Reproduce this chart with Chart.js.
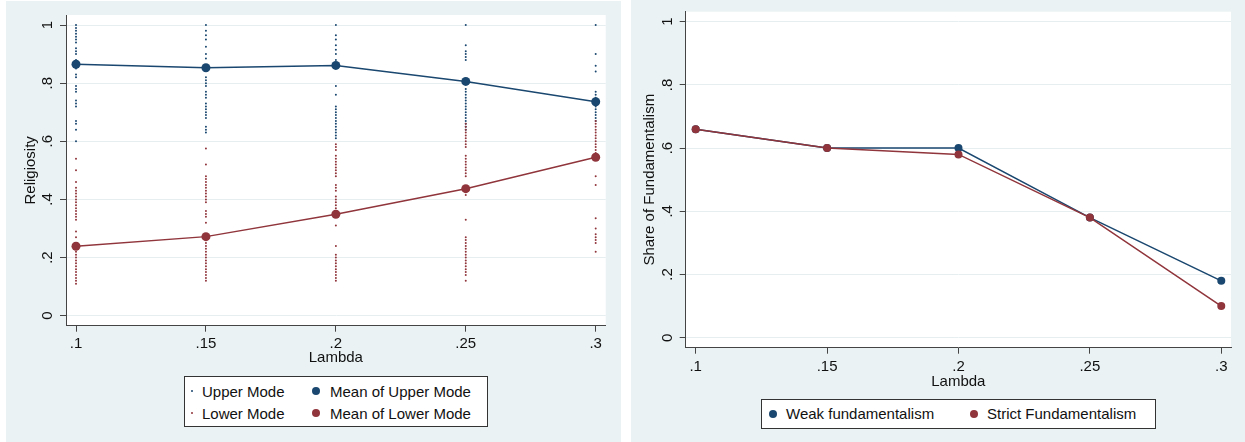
<!DOCTYPE html>
<html>
<head>
<meta charset="utf-8">
<script src="https://cdn.jsdelivr.net/npm/chart.js@4"></script>
<style>
    body { margin: 0; background: #fff; width: 1245px; height: 442px; position: relative; overflow: hidden;
           font-family: "Liberation Sans", Arial, sans-serif; }
    canvas { position: absolute; }
    .legend { position: absolute; background: #fff; border: 1px solid #333; box-sizing: border-box; }
    .item { position: absolute; font-size: 15px; color: #111; line-height: 18px; white-space: nowrap; }
    .dot { position: absolute; border-radius: 50%; }
</style>
</head>
<body>
<canvas id="left" width="615" height="441" style="left:6px; top:1px;"></canvas>
<canvas id="right" width="614" height="442" style="left:631px; top:0px;"></canvas>

<div class="legend" style="left:184px; top:376px; width:304px; height:51px;">
    <div class="dot" style="left:6px; top:13px; width:2px; height:2px; background:#1a476f;"></div>
    <div class="item" style="left:17px; top:6px;">Upper Mode</div>
    <div class="dot" style="left:6px; top:35px; width:2px; height:2px; background:#90353b;"></div>
    <div class="item" style="left:17px; top:28px;">Lower Mode</div>
    <div class="dot" style="left:127px; top:10px; width:8px; height:8px; background:#1a476f;"></div>
    <div class="item" style="left:145px; top:6px;">Mean of Upper Mode</div>
    <div class="dot" style="left:127px; top:32px; width:8px; height:8px; background:#90353b;"></div>
    <div class="item" style="left:145px; top:28px;">Mean of Lower Mode</div>
</div>

<div class="legend" style="left:761px; top:399px; width:395px; height:30px;">
    <div class="dot" style="left:7px; top:10px; width:8px; height:8px; background:#1a476f;"></div>
    <div class="item" style="left:24px; top:5px;">Weak fundamentalism</div>
    <div class="dot" style="left:208px; top:10px; width:8px; height:8px; background:#90353b;"></div>
    <div class="item" style="left:225px; top:5px;">Strict Fundamentalism</div>
</div>

<script>
// lambda values (x axis of both panels)
var lambdas = [0.1, 0.15, 0.2, 0.25, 0.3];
var yTicks = [0, 0.2, 0.4, 0.6, 0.8, 1];

// left panel: individual religiosity of runs, one list per lambda
var upperMode = [
    [1.0, 0.99, 0.98, 0.97, 0.96, 0.95, 0.94, 0.92, 0.91, 0.90, 0.88, 0.87, 0.85, 0.83, 0.82, 0.79, 0.78, 0.77, 0.74, 0.73, 0.72, 0.67, 0.66, 0.64, 0.60],
    [1.0, 0.98, 0.965, 0.95, 0.925, 0.90, 0.885, 0.86, 0.82, 0.81, 0.80, 0.79, 0.77, 0.76, 0.75, 0.73, 0.72, 0.71, 0.70, 0.69, 0.68, 0.65, 0.64, 0.63],
    [1.0, 0.965, 0.95, 0.93, 0.915, 0.90, 0.88, 0.86, 0.79, 0.76, 0.72, 0.71, 0.70, 0.69, 0.68, 0.67, 0.66, 0.65, 0.64, 0.63, 0.62, 0.61],
    [1.0, 0.93, 0.91, 0.90, 0.89, 0.88, 0.78, 0.77, 0.76, 0.75, 0.74, 0.73, 0.72, 0.71, 0.70, 0.69, 0.68, 0.67, 0.66, 0.65, 0.64],
    [1.0, 0.90, 0.86, 0.84, 0.77, 0.76, 0.75, 0.72, 0.71, 0.70, 0.69, 0.68, 0.67]
];
var lowerMode = [
    [0.54, 0.50, 0.46, 0.44, 0.43, 0.42, 0.41, 0.40, 0.39, 0.38, 0.37, 0.36, 0.35, 0.34, 0.33, 0.29, 0.27, 0.24, 0.23, 0.22, 0.21, 0.20, 0.19, 0.18, 0.17, 0.16, 0.15, 0.14, 0.13, 0.12, 0.11],
    [0.575, 0.52, 0.48, 0.47, 0.46, 0.45, 0.44, 0.43, 0.42, 0.41, 0.40, 0.39, 0.36, 0.35, 0.34, 0.32, 0.27, 0.26, 0.25, 0.24, 0.23, 0.22, 0.21, 0.20, 0.19, 0.18, 0.17, 0.16, 0.15, 0.14, 0.13, 0.12],
    [0.59, 0.58, 0.57, 0.55, 0.54, 0.53, 0.52, 0.51, 0.50, 0.49, 0.48, 0.45, 0.44, 0.43, 0.41, 0.40, 0.39, 0.38, 0.37, 0.36, 0.31, 0.24, 0.21, 0.20, 0.19, 0.18, 0.17, 0.16, 0.15, 0.14, 0.13, 0.12],
    [0.66, 0.65, 0.64, 0.63, 0.62, 0.61, 0.60, 0.59, 0.58, 0.55, 0.54, 0.53, 0.52, 0.51, 0.50, 0.49, 0.48, 0.415, 0.33, 0.27, 0.26, 0.25, 0.24, 0.23, 0.22, 0.21, 0.20, 0.19, 0.18, 0.17, 0.16, 0.15, 0.14, 0.12],
    [0.67, 0.66, 0.65, 0.64, 0.63, 0.62, 0.61, 0.60, 0.59, 0.58, 0.57, 0.56, 0.55, 0.48, 0.45, 0.335, 0.30, 0.28, 0.27, 0.26, 0.25, 0.22]
];
var meanUpper = [0.865, 0.853, 0.861, 0.806, 0.736];
var meanLower = [0.239, 0.272, 0.349, 0.437, 0.545];

// right panel
var weakFund = [0.66, 0.60, 0.60, 0.38, 0.18];
var strictFund = [0.66, 0.60, 0.58, 0.38, 0.10];

var navy = '#1a476f';
var maroon = '#90353b';
var font = { family: '"Liberation Sans", Arial, sans-serif', size: 15 };

function fmt(v) {
    var s = String(Math.round(v * 100) / 100);
    return s.replace(/^0\./, '.');
}

function columnPoints(lists) {
    var pts = [];
    for (var i = 0; i < lists.length; i++) {
        for (var j = 0; j < lists[i].length; j++) {
            pts.push({ x: lambdas[i], y: lists[i][j] });
        }
    }
    return pts;
}

function linePoints(vals) {
    return vals.map(function (v, i) { return { x: lambdas[i], y: v }; });
}

var panelBg = {
    id: 'panelBg',
    beforeDraw: function (chart) {
        var ctx = chart.ctx, a = chart.chartArea;
        ctx.save();
        ctx.fillStyle = '#eaf2f3';
        ctx.fillRect(0, 0, chart.width, chart.height);
        ctx.fillStyle = '#ffffff';
        ctx.fillRect(a.left, a.top, a.right - a.left, a.bottom - a.top);
        ctx.restore();
    }
};

// Stata style vertical tick labels on the y axis
var yLabels = {
    id: 'yLabels',
    afterDraw: function (chart, args, opts) {
        var ctx = chart.ctx, s = chart.scales.y;
        ctx.save();
        ctx.fillStyle = '#111';
        ctx.font = font.size + 'px ' + font.family;
        ctx.textAlign = 'center';
        ctx.textBaseline = 'middle';
        s.ticks.forEach(function (t) {
            ctx.save();
            ctx.translate(opts.x, s.getPixelForValue(t.value));
            ctx.rotate(-Math.PI / 2);
            ctx.fillText(fmt(t.value), 0, 0);
            ctx.restore();
        });
        ctx.restore();
    }
};

function makeOptions(cfg) {
    return {
        responsive: false,
        animation: false,
        layout: { padding: cfg.padding },
        plugins: {
            legend: { display: false },
            tooltip: { enabled: false },
            yLabels: { x: cfg.labelX }
        },
        scales: {
            x: {
                type: 'linear',
                min: cfg.xMin,
                max: cfg.xMax,
                afterBuildTicks: function (scale) {
                    scale.ticks = lambdas.map(function (v) { return { value: v }; });
                },
                afterFit: function (scale) { scale.height = cfg.xHeight; },
                ticks: { font: font, color: '#111', padding: cfg.xTickPad, maxRotation: 0, autoSkip: false, callback: fmt },
                grid: { drawOnChartArea: false, drawTicks: true, tickLength: 6, tickColor: '#444' },
                border: { color: '#444', width: 1 },
                title: { display: true, text: 'Lambda', font: font, color: '#111', padding: 0 }
            },
            y: {
                type: 'linear',
                min: cfg.yMin,
                max: cfg.yMax,
                afterBuildTicks: function (scale) {
                    scale.ticks = yTicks.map(function (v) { return { value: v }; });
                },
                afterFit: function (scale) { scale.width = cfg.yWidth; },
                ticks: { display: false },
                grid: { color: '#e6eef0', lineWidth: 1, drawTicks: true, tickLength: 6, tickColor: '#444' },
                border: { color: '#444', width: 1 },
                title: { display: true, text: cfg.yTitle, font: font, color: '#111', padding: 0 }
            }
        }
    };
}

new Chart(document.getElementById('left'), {
    type: 'scatter',
    data: {
        datasets: [
            { label: 'Mean of Upper Mode', data: linePoints(meanUpper), showLine: true, borderColor: navy, backgroundColor: navy, borderWidth: 1.5, pointRadius: 4.5, pointBorderWidth: 0 },
            { label: 'Mean of Lower Mode', data: linePoints(meanLower), showLine: true, borderColor: maroon, backgroundColor: maroon, borderWidth: 1.5, pointRadius: 4.5, pointBorderWidth: 0 },
            { label: 'Lower Mode', data: columnPoints(lowerMode), backgroundColor: maroon, borderColor: maroon, pointRadius: 1, pointBorderWidth: 0 },
            { label: 'Upper Mode', data: columnPoints(upperMode), backgroundColor: navy, borderColor: navy, pointRadius: 1, pointBorderWidth: 0 }
        ]
    },
    options: makeOptions({
        padding: { left: 16, top: 14, right: 15.3, bottom: 74.7 },
        xHeight: 41.6, yWidth: 44, xTickPad: 3.3, labelX: 42,
        xMin: 0.09615, xMax: 0.30385, yMin: -0.0344, yMax: 1.0344,
        yTitle: 'Religiosity'
    }),
    plugins: [panelBg, yLabels]
});

new Chart(document.getElementById('right'), {
    type: 'scatter',
    data: {
        datasets: [
            { label: 'Strict Fundamentalism', data: linePoints(strictFund), showLine: true, borderColor: maroon, backgroundColor: maroon, borderWidth: 1.5, pointRadius: 4, pointBorderWidth: 0 },
            { label: 'Weak fundamentalism', data: linePoints(weakFund), showLine: true, borderColor: navy, backgroundColor: navy, borderWidth: 1.5, pointRadius: 4, pointBorderWidth: 0 }
        ]
    },
    options: makeOptions({
        padding: { left: 9.7, top: 11.7, right: 14, bottom: 51.3 },
        xHeight: 43, yWidth: 45, xTickPad: 4, labelX: 37,
        xMin: 0.0962, xMax: 0.3037, yMin: -0.0316, yMax: 1.0316,
        yTitle: 'Share of Fundamentalism'
    }),
    plugins: [panelBg, yLabels]
});
</script>
</body>
</html>
